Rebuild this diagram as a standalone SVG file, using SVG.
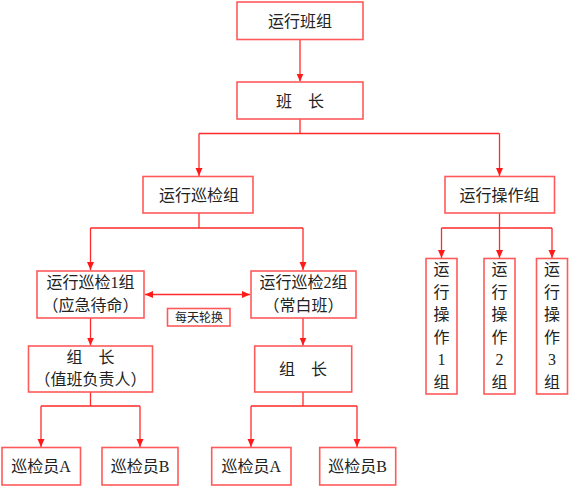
<svg xmlns="http://www.w3.org/2000/svg" width="569" height="489" viewBox="0 0 569 489">
<style>
.b{fill:#fff;stroke:#ff5a5a;stroke-width:1.6}
.c{fill:none;stroke:#ff2a2a;stroke-width:1.3}
.t{font-family:"Liberation Serif","Noto Sans CJK SC",serif;font-size:16px;fill:#222;text-anchor:middle}
.s{font-size:12px}
</style>
<defs>
<marker id="a" markerUnits="userSpaceOnUse" markerWidth="8" markerHeight="8" refX="8" refY="3.5" orient="auto-start-reverse">
<path d="M0,0 L8,3.5 L0,7 z" fill="#ff1a1a"/>
</marker>
</defs>
<rect width="569" height="489" fill="#fff"/>
<g id="connectors">
<path class="c" d="M300,39 V81.5" marker-end="url(#a)"/>
<path class="c" d="M300,119 V133.5 M199,133.5 H499.5"/>
<path class="c" d="M199,133.5 V176" marker-end="url(#a)"/>
<path class="c" d="M499.5,133.5 V176" marker-end="url(#a)"/>
<path class="c" d="M199,213 V228 M90.5,228 H303"/>
<path class="c" d="M90.5,228 V270" marker-end="url(#a)"/>
<path class="c" d="M303,228 V270" marker-end="url(#a)"/>
<path class="c" d="M499.5,213 V228 M441.5,228 H552"/>
<path class="c" d="M441.5,228 V258" marker-end="url(#a)"/>
<path class="c" d="M499.5,228 V258" marker-end="url(#a)"/>
<path class="c" d="M552,228 V258" marker-end="url(#a)"/>
<path class="c" d="M145,294.5 H250" marker-start="url(#a)" marker-end="url(#a)"/>
<path class="c" d="M90.5,318 V345.5" marker-end="url(#a)"/>
<path class="c" d="M303,318 V345.5" marker-end="url(#a)"/>
<path class="c" d="M90.5,392 V406 M41,406 H140"/>
<path class="c" d="M41,406 V447" marker-end="url(#a)"/>
<path class="c" d="M140,406 V447" marker-end="url(#a)"/>
<path class="c" d="M303,392 V406 M251,406 H357"/>
<path class="c" d="M251,406 V447" marker-end="url(#a)"/>
<path class="c" d="M357,406 V447" marker-end="url(#a)"/>
</g>
<g id="n-yxbz"><rect class="b" x="237" y="2" width="126" height="37.5"/><text class="t" x="300" y="27">运行班组</text></g>
<g id="n-bz"><rect class="b" x="237" y="82" width="126" height="37"/><text class="t" x="300" y="107">班　长</text></g>
<g id="n-xjz"><rect class="b" x="143" y="176.5" width="110" height="36.5"/><text class="t" x="199" y="201">运行巡检组</text></g>
<g id="n-czz"><rect class="b" x="445" y="176.5" width="109.5" height="36.5"/><text class="t" x="499.5" y="201">运行操作组</text></g>
<g id="n-xj1"><rect class="b" x="37" y="271" width="107" height="47"/><text class="t" x="90.5" y="288">运行巡检1组</text><text class="t" x="90.5" y="310.5">（应急待命）</text></g>
<g id="n-xj2"><rect class="b" x="251" y="271" width="105" height="47"/><text class="t" x="303.5" y="288">运行巡检2组</text><text class="t" x="303.5" y="310.5">（常白班）</text></g>
<g id="n-mtlh"><rect class="b" x="167.5" y="308.5" width="62.5" height="17.5" stroke-width="1.3"/><text class="t s" x="199" y="322">每天轮换</text></g>
<g id="n-zz1"><rect class="b" x="28.5" y="346" width="124" height="46"/><text class="t" x="90.5" y="362.5">组　长</text><text class="t" x="90.5" y="385">（值班负责人）</text></g>
<g id="n-zz2"><rect class="b" x="254.7" y="346" width="97" height="46"/><text class="t" x="303" y="374.5">组　长</text></g>
<g id="n-czg1"><rect class="b" x="426" y="258.5" width="31" height="135.5"/><text class="t" x="441.5" y="275">运</text><text class="t" x="441.5" y="297.5">行</text><text class="t" x="441.5" y="320">操</text><text class="t" x="441.5" y="342.5">作</text><text class="t" x="441.5" y="365">1</text><text class="t" x="441.5" y="387.5">组</text></g>
<g id="n-czg2"><rect class="b" x="484" y="258.5" width="31" height="135.5"/><text class="t" x="499.5" y="275">运</text><text class="t" x="499.5" y="297.5">行</text><text class="t" x="499.5" y="320">操</text><text class="t" x="499.5" y="342.5">作</text><text class="t" x="499.5" y="365">2</text><text class="t" x="499.5" y="387.5">组</text></g>
<g id="n-czg3"><rect class="b" x="536.5" y="258.5" width="31" height="135.5"/><text class="t" x="552" y="275">运</text><text class="t" x="552" y="297.5">行</text><text class="t" x="552" y="320">操</text><text class="t" x="552" y="342.5">作</text><text class="t" x="552" y="365">3</text><text class="t" x="552" y="387.5">组</text></g>
<g id="n-1a"><rect class="b" x="2" y="447.5" width="78.5" height="37.5"/><text class="t" x="41" y="472">巡检员A</text></g>
<g id="n-1b"><rect class="b" x="102" y="447.5" width="76" height="37.5"/><text class="t" x="140" y="472">巡检员B</text></g>
<g id="n-2a"><rect class="b" x="211.7" y="447.5" width="79.3" height="37.5"/><text class="t" x="251.3" y="472">巡检员A</text></g>
<g id="n-2b"><rect class="b" x="319.7" y="447.5" width="76" height="37.5"/><text class="t" x="357.7" y="472">巡检员B</text></g>
</svg>
